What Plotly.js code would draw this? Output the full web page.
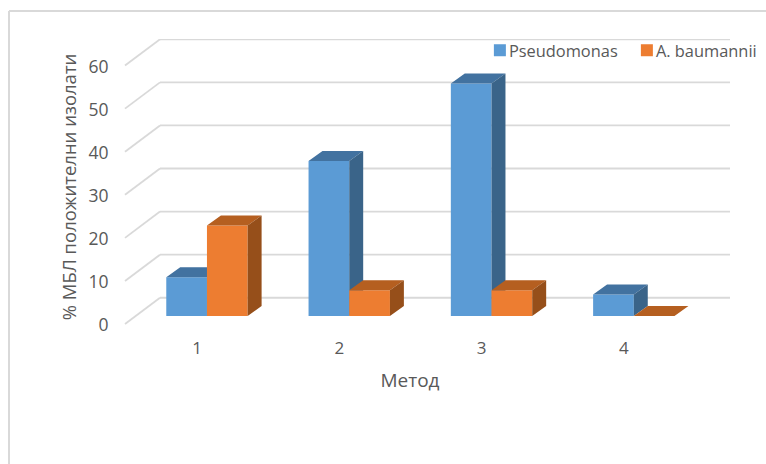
<!DOCTYPE html>
<html>
<head>
<meta charset="utf-8">
<script src="https://cdn.plot.ly/plotly-3.0.1.min.js"></script>
<style>html,body{margin:0;padding:0;background:#fff}</style>
</head>
<body>
<div id="chart" style="width:766px;height:464px"></div>
<script>
// Values per method
const categories = [1, 2, 3, 4];
const pseudomonas = [9, 36, 54, 5];
const baumannii = [21, 6, 6, 0];
const valueTicks = [0, 10, 20, 30, 40, 50, 60];

const seriesNames = ['Pseudomonas', 'A. baumannii'];
const xTitle = 'Метод';
const yTitle = '% МБЛ положителни изолати';

// Pseudo-3D projection, expressed in axis units
const wallDepth = {x: 0.246, y: 6.1};   // front wall edge to back wall
const barFront = {x: 0.070, y: 1.857};  // front wall edge to bar front
const barDepth = {x: 0.098, y: 2.32};   // front of a bar to its back
const barWidth = 0.286;

const xRange = [0.248, 4.746];
const yRange = [-2.554, 66.17];
const wallLeft = 0.494;

const textColor = '#595959';
const gridColor = '#D9D9D9';

// Top and side faces of one series as filled polygons
function faces(values, slot, color) {
  const tx = [], ty = [], sx = [], sy = [];
  values.forEach((v, i) => {
    const x0 = categories[i] + barFront.x + (slot - 1) * barWidth;
    const x1 = x0 + barWidth;
    const yb = barFront.y;
    const yt = yb + v;
    tx.push(x0, x1, x1 + barDepth.x, x0 + barDepth.x, x0, null);
    ty.push(yt, yt, yt + barDepth.y, yt + barDepth.y, yt, null);
    if (v > 0) {
      sx.push(x1, x1 + barDepth.x, x1 + barDepth.x, x1, x1, null);
      sy.push(yb, yb + barDepth.y, yt + barDepth.y, yt, yb, null);
    }
  });
  return [
    {x: tx, y: ty, color: color.top},
    {x: sx, y: sy, color: color.side}
  ].map(f => ({
    type: 'scatter', mode: 'lines', x: f.x, y: f.y,
    fill: 'toself', fillcolor: f.color, line: {width: 0},
    showlegend: false, hoverinfo: 'skip',
    xaxis: color.xaxis, yaxis: color.yaxis
  }));
}

function frontBars(values, slot, name, color) {
  return {
    type: 'bar', name: name,
    x: categories.map(c => c + barFront.x + (slot - 0.5) * barWidth),
    y: values, base: values.map(() => barFront.y), width: barWidth,
    marker: {color: color.front, line: {width: 0}},
    xaxis: color.xaxis, yaxis: color.yaxis
  };
}

const blue = {front: '#5B9BD5', top: '#4272A0', side: '#3A6489', xaxis: 'x2', yaxis: 'y2'};
const orange = {front: '#ED7D31', top: '#B55F20', side: '#964F1A', xaxis: 'x3', yaxis: 'y3'};

// Invisible base trace keeps the visible tick axes alive
const baseTrace = {type: 'scatter', mode: 'none', x: categories, y: categories.map(() => 0),
  showlegend: false, hoverinfo: 'skip'};

const traces = [
  baseTrace,
  frontBars(pseudomonas, 0, seriesNames[0], blue),
  ...faces(pseudomonas, 0, blue),
  frontBars(baumannii, 1, seriesNames[1], orange),
  ...faces(baumannii, 1, orange)
];

// Wall gridlines: a diagonal on the side wall, then a horizontal on the back wall
const shapes = [];
valueTicks.forEach(v => {
  const common = {type: 'line', xref: 'x', yref: 'y', layer: 'below', line: {color: gridColor, width: 1.8}};
  shapes.push(Object.assign({}, common, {x0: wallLeft, y0: v, x1: wallLeft + wallDepth.x, y1: v + wallDepth.y}));
  shapes.push(Object.assign({}, common, {x0: wallLeft + wallDepth.x, y0: v + wallDepth.y, x1: xRange[1], y1: v + wallDepth.y}));
});

// Chart frame along the top and left
const frameLine = {color: '#D9D9D9', width: 2};
shapes.push({type: 'line', xref: 'paper', yref: 'paper', x0: (9 - 90) / 640, x1: (766 - 90) / 640,
  y0: (335 - 11) / 296, y1: (335 - 11) / 296, line: frameLine});
shapes.push({type: 'line', xref: 'paper', yref: 'paper', x0: (9 - 90) / 640, x1: (9 - 90) / 640,
  y0: (335 - 11) / 296, y1: (335 - 464) / 296, line: frameLine});

const hiddenX = ov => ({overlaying: ov, range: xRange, visible: false, anchor: 'y'});
const hiddenY = ov => ({overlaying: ov, range: yRange, visible: false, anchor: 'x'});

const layout = {
  width: 766, height: 464,
  margin: {l: 90, r: 36, t: 39, b: 129, pad: 0, autoexpand: false},
  paper_bgcolor: '#fff', plot_bgcolor: 'rgba(0,0,0,0)',
  font: {family: '"Open Sans", sans-serif', color: textColor, size: 16},
  barmode: 'overlay',
  showlegend: true,
  legend: {
    orientation: 'h', x: 0.592, y: 1.02, xanchor: 'left', yanchor: 'top',
    font: {size: 16.4, color: textColor}, traceorder: 'normal',
    entrywidth: 102, entrywidthmode: 'pixels', bgcolor: 'rgba(0,0,0,0)'
  },
  xaxis: {
    range: xRange, tickmode: 'array', tickvals: categories, ticktext: categories.map(String),
    showgrid: false, zeroline: false, showline: false, ticks: '',
    ticklabelstandoff: 1,
    tickfont: {size: 17, color: textColor},
    title: {text: xTitle, font: {size: 19, color: textColor}, standoff: 15}
  },
  yaxis: {
    range: yRange, tickmode: 'array', tickvals: valueTicks,
    anchor: 'free', position: (125 - 90) / 640,
    showgrid: false, zeroline: false, showline: false,
    ticks: 'outside', ticklen: 13, tickcolor: 'rgba(0,0,0,0)',
    ticklabelshift: 1,
    tickfont: {size: 17.5, color: textColor},
    title: {text: yTitle, font: {size: 18.5, color: textColor}, standoff: 6}
  },
  xaxis2: hiddenX('x'), yaxis2: hiddenY('y'),
  xaxis3: hiddenX('x'), yaxis3: hiddenY('y'),
  shapes: shapes
};

Plotly.newPlot('chart', traces, layout, {displayModeBar: false, staticPlot: true}).then(() => {
  // Tighter legend keys: smaller swatch, set close to its label
  document.querySelectorAll('.legend .legendsymbols').forEach(g => g.setAttribute('transform', 'translate(11,0)'));
  document.querySelectorAll('.legend .legendbar path').forEach(p => p.setAttribute('d', 'M5,5H-5V-5H5Z'));
});
</script>
</body>
</html>
